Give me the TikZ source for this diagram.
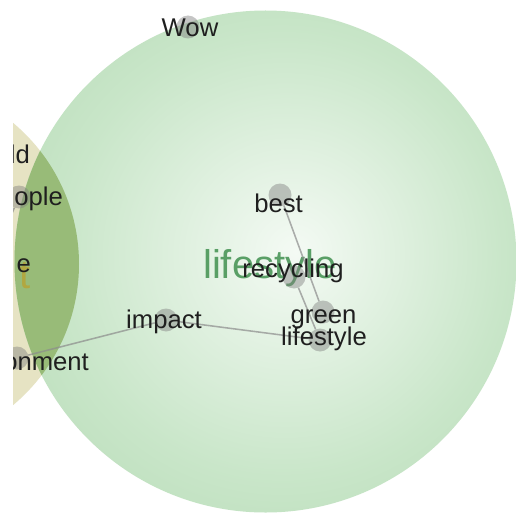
\documentclass[tikz,border=0pt]{standalone}
\usepackage{fontspec}
\setmainfont{Liberation Sans}
\usetikzlibrary{positioning}

\definecolor{rimgreen}{HTML}{A0CEA0}
\definecolor{midgreen}{HTML}{C9E6C9}
\definecolor{coregreen}{HTML}{F4FAF4}
\definecolor{sand}{HTML}{E6E3C3}
\definecolor{lensgreen}{HTML}{98BB78}
\definecolor{hubgreen}{HTML}{4A9658}
\definecolor{hubolive}{HTML}{B8A232}
\pgfdeclareradialshading{lifeglow}{\pgfpoint{3bp}{1bp}}{color(0bp)=(coregreen); color(22bp)=(midgreen); color(50bp)=(rimgreen)}

\begin{document}
\begin{tikzpicture}[
    x=0.05cm, y=-0.05cm,
    word/.style={font=\fontsize{36.5}{40}\selectfont, text=black!88, inner sep=0pt, anchor=base},
    cut/.style={word, anchor=base east},
    hub/.style={font=\fontsize{57}{60}\selectfont, inner sep=0pt, anchor=base},
    dot/.style={circle, fill=gray, fill opacity=0.45, minimum size=1.15cm, inner sep=0pt},
    link/.style={draw=gray!90, line width=2.2pt, opacity=0.7},
]
\useasboundingbox (0,0) rectangle (516,518);
\fill[white] (0,0) rectangle (516,518);

\begin{scope}
\clip (13,0) rectangle (516,518);

% Cluster circles
\coordinate (sandc) at (-105,264);
\coordinate (lifec) at (265.5,261.5);
\fill[sand] (sandc) circle (184);
\shade[shading=lifeglow] (lifec) circle (251);
\begin{scope}
    \clip (sandc) circle (184);
    \fill[lensgreen] (lifec) circle (251);
\end{scope}

% Cluster labels
\node[hub, text=hubgreen, text opacity=0.9] (hub) at (270,278) {lifestyle};
\node[hub, text=hubolive, text opacity=0.8, anchor=base east] (hubleft) at (31,288) {t};

% Word nodes
\node[dot] (wow) at (188,27) {};
\node[dot] (best) at (280,195) {};
\node[dot] (recyc) at (294,277) {};
\node[dot] (green) at (323,312) {};
\node[dot] (glife) at (320,340) {};
\node[dot] (impact) at (166,320) {};
\node[dot] (people) at (19,197) {};
\node[dot] (envir) at (17,358) {};
\coordinate (offleft) at (4,232);

% Links
\draw[link] (best) -- (green);
\draw[link] (recyc) -- (glife);
\draw[link] (impact) -- (glife);
\draw[link] (envir) -- (impact);
\draw[link] (people) -- (offleft);

% Labels
\node[word] (wowtxt) at (190,37) {Wow};
\node[word] (besttxt) at (278.5,212) {best};
\node[word] (recyctxt) at (293,277) {recycling};
\node[word] (greentxt) at (323.5,323) {green};
\node[word] (glifetxt) at (324,345) {lifestyle};
\node[word] (impacttxt) at (164,328) {impact};
\foreach \i/\xpos/\ypos/\txt in {1/30/163/ld, 2/63/205/ople, 3/31/272/e, 4/89/370/onment} {
    \node[cut] (cut-\i) at (\xpos,\ypos) {\txt};
}
\end{scope}

\end{tikzpicture}
\end{document}
